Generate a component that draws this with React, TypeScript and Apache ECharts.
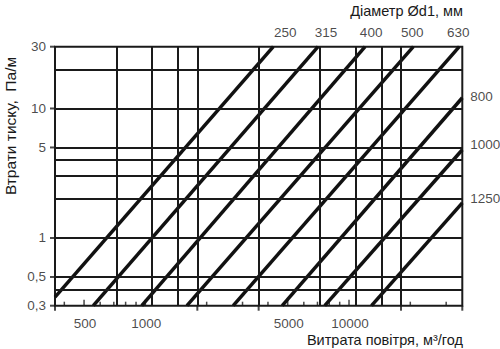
import React, { useEffect, useRef } from 'react';
import * as echarts from 'echarts';

// Duct diameters (mm) and the two ends of each friction-loss line
const diameters = ['250', '315', '400', '500', '630', '800', '1000', '1250'];
const flowStart = [360, 555, 960, 1600, 2700, 4700, 7600, 12900]; // m³/h
const lossStart = [0.35, 0.3, 0.3, 0.3, 0.3, 0.3, 0.3, 0.3]; // Pa/m
const flowEnd = [4250, 7050, 12000, 20700, 34800, 36000, 36000, 36000]; // m³/h
const lossEnd = [30, 30, 30, 30, 30, 12.1, 4.8, 1.87]; // Pa/m

// Axis ranges
const X_MIN = 360;
const X_MAX = 36000;
const Y_MIN = 0.3;
const Y_MAX = 30;

// Grid lines
const xGridValues = [720, 1080, 1440, 1800, 3600, 7200, 10800, 14400, 18000];
const yGridValues = [20, 10, 5, 4, 3, 2, 1, 0.5, 0.4];

// Ticks and tick labels
const xLabelValues = [500, 1000, 5000, 10000];
const xMinorTickValues = [400, 600, 700, 800, 900, 2000, 3000, 4000, 6000, 7000, 8000, 9000, 20000, 30000];
const xOuterTickValues = [360, 1800, 3600, 18000, 36000];
const yLabelValues = [30, 10, 5, 1, 0.5, 0.3];

// Texts
const yTitle = 'Втрати тиску,\u00A0 Па/м';
const xTitle = 'Витрата повітря, м³/год';
const diamTitle = 'Діаметр Ød1, мм';

const FONT = "'Liberation Sans', Arial, Helvetica, sans-serif";
const INK = '#1a1a1a';

// label placement for the diameter labels (style only)
const diamLabelStyle: any[] = [
  { position: 'top', distance: 7, offset: [12, 0] },
  { position: 'top', distance: 7, offset: [8, 0] },
  { position: 'top', distance: 7, offset: [6, 0] },
  { position: 'top', distance: 7, offset: [-1, 0] },
  { position: 'top', distance: 7, offset: [-1, 0] },
  { position: 'right', distance: 8, offset: [0, -1] },
  { position: 'right', distance: 8, offset: [0, -5] },
  { position: 'right', distance: 8, offset: [0, -4] },
];

export default function App() {
  const ref = useRef<HTMLDivElement>(null);

  useEffect(() => {
    if (!ref.current) return;
    const chart = echarts.init(ref.current, undefined, { renderer: 'svg' });

    const textBase = { fontFamily: FONT, fontSize: 13.5, color: INK };

    const lineSeries = diameters.map((d, i) => ({
      name: d,
      type: 'line',
      data: [
        [flowStart[i], lossStart[i]],
        [flowEnd[i], lossEnd[i]],
      ],
      symbol: 'none',
      lineStyle: { color: '#111', width: 3.5 },
      z: 4,
      silent: true,
    }));

    const option: any = {
      animation: false,
      grid: {
        left: 55,
        right: 37.7,
        top: 46.7,
        bottom: 43.3,
        show: true,
        borderColor: INK,
        borderWidth: 2,
        backgroundColor: 'transparent',
      },
      xAxis: {
        type: 'log',
        logBase: 10,
        min: X_MIN,
        max: X_MAX,
        axisLine: { show: false },
        axisTick: { show: false },
        axisLabel: { show: false },
        splitLine: { show: false },
      },
      yAxis: {
        type: 'log',
        logBase: 10,
        min: Y_MIN,
        max: Y_MAX,
        axisLine: { show: false },
        axisTick: { show: false },
        axisLabel: { show: false },
        splitLine: { show: false },
      },
      series: [
        // y tick marks (outward) + labels + all grid lines
        {
          type: 'scatter',
          clip: false,
          silent: true,
          z: 2,
          data: yLabelValues.map((v) => [X_MIN, v]),
          symbol: 'rect',
          symbolSize: [5, 2],
          symbolOffset: [-2.5, 0],
          itemStyle: { color: INK },
          label: {
            show: true,
            position: 'left',
            distance: 4,
            ...textBase,
            formatter: (p: any) => String(p.value[1]).replace('.', ','),
          },
          markLine: {
            silent: true,
            symbol: ['none', 'none'],
            label: { show: false },
            lineStyle: { color: INK, width: 2, type: 'solid' },
            emphasis: { disabled: true },
            data: [
              ...xGridValues.map((v) => ({ xAxis: v })),
              ...yGridValues.map((v) => ({ yAxis: v })),
            ],
          },
        },
        // x labelled ticks (inward, taller) + labels
        {
          type: 'scatter',
          clip: false,
          silent: true,
          z: 2,
          data: xLabelValues.map((v) => [v, Y_MIN]),
          symbol: 'rect',
          symbolSize: [1.5, 6],
          symbolOffset: [0, -3],
          itemStyle: { color: INK },
          label: {
            show: true,
            position: 'bottom',
            distance: 11,
            offset: [1, 0],
            ...textBase,
            formatter: (p: any) => String(p.value[0]),
          },
        },
        // x minor ticks (inward)
        {
          type: 'scatter',
          clip: false,
          silent: true,
          z: 2,
          data: xMinorTickValues.map((v) => [v, Y_MIN]),
          symbol: 'rect',
          symbolSize: [1.5, 4],
          symbolOffset: [0, -2],
          itemStyle: { color: INK },
        },
        // x outer ticks (downward)
        {
          type: 'scatter',
          clip: false,
          silent: true,
          z: 2,
          data: xOuterTickValues.map((v) => [v, Y_MIN]),
          symbol: 'rect',
          symbolSize: [2, 5],
          symbolOffset: [0, 2.5],
          itemStyle: { color: INK },
        },
        ...lineSeries,
        // diameter labels at line ends
        {
          type: 'scatter',
          clip: false,
          silent: true,
          z: 5,
          symbolSize: 0,
          data: diameters.map((d, i) => ({
            name: d,
            value: [flowEnd[i], lossEnd[i]],
            label: { show: true, formatter: '{b}', ...textBase, ...diamLabelStyle[i] },
          })),
        },
      ],
      graphic: [
        {
          type: 'text',
          x: 463,
          y: 11,
          style: { text: diamTitle, fontFamily: FONT, fontSize: 14.5, fill: INK, align: 'right', verticalAlign: 'middle' },
        },
        {
          type: 'text',
          x: 463,
          y: 340,
          style: { text: xTitle, fontFamily: FONT, fontSize: 14.5, fill: INK, align: 'right', verticalAlign: 'middle' },
        },
        {
          type: 'text',
          x: 10,
          y: 126,
          rotation: Math.PI / 2,
          style: { text: yTitle, fontFamily: FONT, fontSize: 15.5, fill: INK, align: 'center', verticalAlign: 'middle' },
        },
      ],
    };

    chart.setOption(option);
    return () => chart.dispose();
  }, []);

  return (
    <div
      ref={ref}
      style={{ position: 'absolute', left: 0, top: 0, width: 500, height: 349, background: '#fff' }}
    />
  );
}
